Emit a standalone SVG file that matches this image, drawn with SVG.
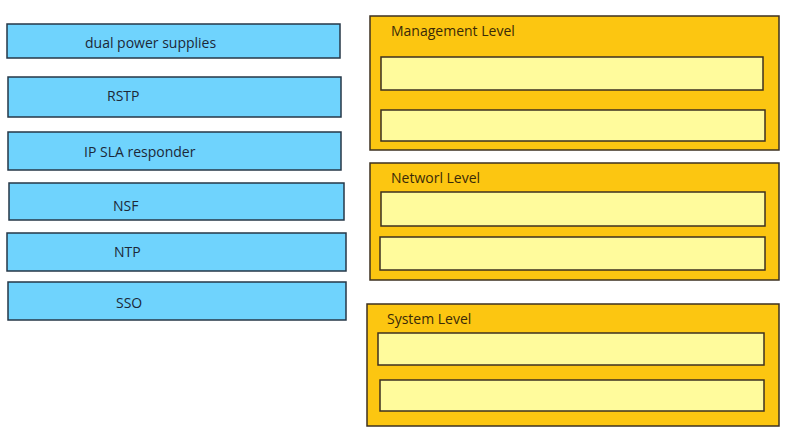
<svg xmlns="http://www.w3.org/2000/svg" width="800" height="431" viewBox="0 0 800 431">
<style>
.opt{fill:#6fd3fd;stroke:#263747;stroke-width:1.5}
.lvl{fill:#fcc611;stroke:#3d3120;stroke-width:1.5}
.slot{fill:#fffb9c;stroke:#3d3120;stroke-width:1.5}
.t{font-family:"Open Sans","Noto Sans",sans-serif;font-size:14px;font-weight:500;fill:#1c2838}
.h{font-family:"Open Sans","Noto Sans",sans-serif;font-size:14px;font-weight:500;fill:#3a2a08}
</style>
<rect width="800" height="431" fill="#ffffff"/>
<g id="opt-dual"><rect class="opt" x="7" y="24" width="333" height="34"/><text class="t" x="85" y="48">dual power supplies</text></g>
<g id="opt-rstp"><rect class="opt" x="8" y="77" width="333" height="40"/><text class="t" x="107" y="101">RSTP</text></g>
<g id="opt-ipsla"><rect class="opt" x="8" y="132" width="333" height="38"/><text class="t" x="84" y="157">IP SLA responder</text></g>
<g id="opt-nsf"><rect class="opt" x="9" y="183" width="335" height="37"/><text class="t" x="113" y="211">NSF</text></g>
<g id="opt-ntp"><rect class="opt" x="7" y="233" width="339" height="38"/><text class="t" x="114" y="257">NTP</text></g>
<g id="opt-sso"><rect class="opt" x="8" y="282" width="338" height="38"/><text class="t" x="116" y="308">SSO</text></g>
<g id="mgmt"><rect class="lvl" x="370" y="16" width="409" height="134"/><text class="h" x="391" y="36">Management Level</text>
<rect class="slot" x="381" y="57" width="382" height="33"/><rect class="slot" x="381" y="110" width="384" height="31"/></g>
<g id="net"><rect class="lvl" x="370" y="163" width="409" height="117"/><text class="h" x="391" y="183">Networl Level</text>
<rect class="slot" x="381" y="192" width="384" height="34"/><rect class="slot" x="380" y="237" width="385" height="33"/></g>
<g id="sys"><rect class="lvl" x="367" y="304" width="412" height="122"/><text class="h" x="387" y="324">System Level</text>
<rect class="slot" x="378" y="333" width="386" height="32"/><rect class="slot" x="380" y="380" width="384" height="31"/></g>
<g id="connectors"/>
</svg>
